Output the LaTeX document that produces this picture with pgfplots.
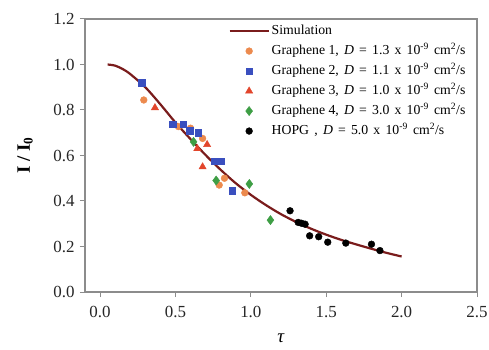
\documentclass[border=0pt]{standalone}
\usepackage{pgfplots}
\pgfplotsset{compat=1.18}
\usepackage{fontspec}
\setmainfont{Liberation Serif}
\definecolor{simred}{HTML}{7A1C1C}
\definecolor{gorange}{HTML}{EC8A4E}
\definecolor{gblue}{HTML}{3A4FBF}
\definecolor{gred}{HTML}{E2452B}
\definecolor{ggreen}{HTML}{3E9E45}
\definecolor{framegray}{HTML}{8C8C8C}
\newcommand{\lsp}{\hspace{5.2bp}}
\newcommand{\legtext}[2]{#1,\lsp\textit{D}\lsp=\lsp#2\lsp x\lsp10\textsuperscript{-9}\lsp cm\textsuperscript{2}/s}
\begin{document}
\begin{tikzpicture}
\useasboundingbox (-85bp,-58bp) rectangle (404bp,292bp);
\begin{axis}[
  at={(0,0)}, anchor=south west,
  scale only axis, width=392bp, height=273bp,
  xmin=-0.1, xmax=2.5, ymin=0, ymax=1.2,
  xtick={0,0.5,1,1.5,2,2.5}, ytick={0,0.2,0.4,0.6,0.8,1.0,1.2},
  axis x line*=bottom, axis y line*=left,
  axis line style={framegray, line width=1.2bp},
  tick style={framegray, line width=1bp},
  tick align=outside, major tick length=5bp,
  /pgf/number format/assume math mode=true,
  /pgf/number format/.cd, fixed, fixed zerofill, precision=1, /pgfplots/.cd,
  ticklabel style={font=\fontsize{17}{19}\selectfont, text=black!85},
  xticklabel style={yshift=-6bp},
  yticklabel style={xshift=-2bp},
  xlabel={\textit{τ}}, xlabel style={font=\fontsize{19}{21}\selectfont, at={(axis description cs:0.5,-0.168)}, anchor=center},
  ylabel={\textbf{I / I\textsubscript{0}}}, ylabel style={font=\fontsize{19}{21}\selectfont, at={(axis description cs:-0.153,0.5)}, anchor=center},
  legend cell align=left,
  legend style={at={(0.358,0.995)}, anchor=north west, draw=none, fill=none,
    inner xsep=3bp, inner ysep=2bp, row sep=3bp,
    font=\fontsize{13.8}{15}\selectfont,
    nodes={inner sep=2bp, text height=10bp, text depth=3bp}},
  legend image code/.code={\draw[mark repeat=2,mark phase=2,#1] plot coordinates {(0bp,0bp) (19.5bp,0bp) (39bp,0bp)};},
  clip=false,
]
% top and right frame
\draw[framegray, line width=1.2bp] (rel axis cs:0,1) -- (rel axis cs:1,1) -- (rel axis cs:1,0);
\addplot[simred, line width=2.2bp, smooth, mark=none] coordinates {
(0.05,1.0) (0.1,0.995) (0.15,0.98) (0.2,0.958) (0.3,0.90) (0.4,0.825) (0.5,0.745)
(0.6,0.672) (0.7,0.602) (0.8,0.537) (0.9,0.478) (1.0,0.427) (1.1,0.382) (1.2,0.342)
(1.3,0.308) (1.4,0.278) (1.5,0.252) (1.6,0.229) (1.7,0.209) (1.8,0.19) (1.9,0.172) (2.0,0.156)};
\addlegendentry{Simulation}
\addplot[only marks, mark=*, mark size=3.4bp, color=gorange] coordinates {
(0.29,0.844) (0.52,0.727) (0.60,0.72) (0.68,0.675) (0.825,0.50) (0.79,0.47) (0.96,0.436)};
\addlegendentry{\legtext{Graphene 1}{1.3}}
\addplot[only marks, mark=square*, mark size=3.3bp, color=gblue] coordinates {
(0.276,0.92) (0.48,0.737) (0.55,0.737) (0.596,0.71) (0.65,0.70) (0.76,0.575) (0.80,0.575) (0.876,0.444)};
\addlegendentry{\legtext{Graphene 2}{1.1}}
\addplot[only marks, mark=triangle*, mark size=4.2bp, color=gred] coordinates {
(0.364,0.81) (0.645,0.63) (0.71,0.648) (0.68,0.55)};
\addlegendentry{\legtext{Graphene 3}{1.0}}
\addplot[only marks, mark=diamond*, mark size=4.6bp, color=ggreen] coordinates {
(0.62,0.66) (0.77,0.49) (0.99,0.475) (1.13,0.316)};
\addlegendentry{\legtext{Graphene 4}{3.0}}
\addplot[only marks, mark=*, mark size=3.4bp, color=black] coordinates {
(1.26,0.357) (1.314,0.306) (1.337,0.302) (1.36,0.298) (1.39,0.247) (1.45,0.243)
(1.51,0.219) (1.63,0.215) (1.80,0.21) (1.856,0.182)};
\addlegendentry{\legtext{HOPG\lsp}{5.0}}
\end{axis}
\end{tikzpicture}
\end{document}
